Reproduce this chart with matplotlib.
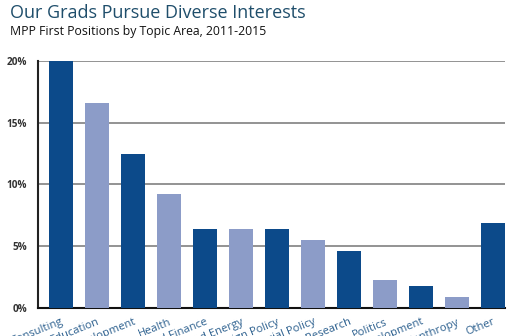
import matplotlib
matplotlib.use("Agg")
import matplotlib.pyplot as plt

categories = ["Consulting", "Education", "Economic Development", "Health",
              "Business and Finance", "Environment and Energy", "Foreign Policy",
              "Social Policy", "Policy Research", "Politics",
              "International Development", "Philanthropy", "Other"]
values = [20.0, 16.6, 12.5, 9.2, 6.4, 6.4, 6.4, 5.5, 4.6, 2.3, 1.8, 0.9, 6.9]
yticks = [0, 5, 10, 15, 20]
ytick_labels = ["0%", "5%", "10%", "15%", "20%"]

dark = "#0c4a8a"
light = "#8c9cc8"
colors = [dark if i % 2 == 0 else light for i in range(len(categories))]

fig = plt.figure(figsize=(5.23, 3.36), dpi=100)
ax = fig.add_axes([38/523, (336-308)/336, (505-38)/523, (308-61)/336])

x = list(range(len(categories)))
ax.bar(x, values, width=0.68, color=colors, zorder=3)
ax.set_xlim(-0.636, len(categories) - 1 + 0.34)
ax.set_ylim(0, 20)

ax.set_yticks(yticks)
ax.set_yticklabels(ytick_labels, fontsize=7.2, fontweight="bold", color="#333333",
                   family="Open Sans")
ax.tick_params(axis="y", length=0, pad=8)
for t in yticks[1:]:
    ax.axhline(t, color="#8a8a8a", lw=1.3, zorder=1)

ax.set_xticks(x)
ax.set_xticklabels(categories, rotation=22, ha="right", rotation_mode="anchor",
                   fontsize=8, color="#2b5f8e", family="Open Sans")
ax.tick_params(axis="x", length=0, pad=6)

for s in ["top", "right"]:
    ax.spines[s].set_visible(False)
ax.spines["left"].set_color("#222222")
ax.spines["bottom"].set_color("#111111")
ax.spines["left"].set_linewidth(1.5)
ax.spines["bottom"].set_linewidth(1.5)

fig.text(10/523, 1 - 4/336, "Our Grads Pursue Diverse Interests", fontsize=13.0,
         color="#1f4e6b", family="Open Sans", va="top", ha="left")
fig.text(10/523, 1 - 25/336, "MPP First Positions by Topic Area, 2011-2015", fontsize=8.8,
         color="#111111", family="Open Sans", va="top", ha="left")

fig.savefig("out.png", dpi=100)
